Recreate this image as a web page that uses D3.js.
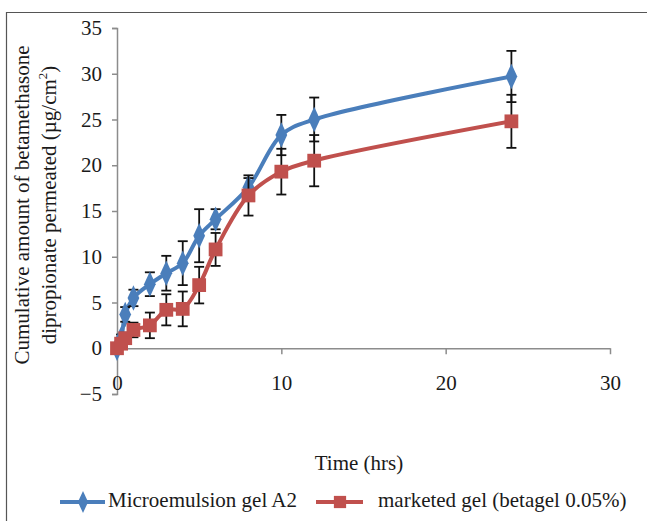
<!DOCTYPE html>
<html><head><meta charset="utf-8">
<script src="https://cdn.jsdelivr.net/npm/d3@7"></script>
<style>body{margin:0;background:#fff}svg{display:block}text{font-family:"Liberation Serif","Times New Roman",serif;fill:#1a1a1a}</style>
</head><body><svg id="c" width="647" height="521"></svg>
<script>
const times = [0, 0.25, 0.5, 1, 2, 3, 4, 5, 6, 8, 10, 12, 24];
const microValues = [0, 1.0, 3.7, 5.5, 7.0, 8.2, 9.3, 12.3, 14.1, 17.6, 23.3, 25.0, 29.7];
const microErrors = [0, 0.5, 0.8, 0.9, 1.3, 1.9, 2.4, 2.9, 1.1, 1.0, 2.2, 2.4, 2.8];
const marketValues = [0, 0.5, 1.1, 2.0, 2.5, 4.2, 4.3, 6.9, 10.8, 16.7, 19.3, 20.5, 24.8];
const marketErrors = [0, 0.3, 0.6, 0.8, 1.4, 1.7, 1.9, 2.0, 1.8, 2.2, 2.5, 2.8, 2.9];
const xTicks = [0, 10, 20, 30];
const yTicks = [-5, 0, 5, 10, 15, 20, 25, 30, 35];
const seriesNames = ["Microemulsion gel A2", "marketed gel (betagel 0.05%)"];
const seriesColors = ["#4a7ebb", "#c0504d"];

const FS = "21px";
const svg = d3.select("#c");
svg.append("path").attr("d", "M6.5,521 V12.5 H647").attr("fill","none").attr("stroke","#555").attr("stroke-width",1.2);

const x = d3.scaleLinear().domain([0, 30]).range([117, 610]);
const y = d3.scaleLinear().domain([-5, 35]).range([394, 28]);

const yAxis = svg.append("g").attr("transform","translate(117,0)")
  .call(d3.axisLeft(y).tickValues(yTicks).tickSize(5).tickPadding(10).tickFormat(d => d < 0 ? "\u2212" + Math.abs(d) : d));
yAxis.select(".domain").attr("stroke","#8c8c8c").attr("stroke-width",1.5);
yAxis.selectAll(".tick line").attr("stroke","#8c8c8c").attr("stroke-width",1.5);
yAxis.selectAll("text").style("font-size",FS).attr("fill","#1a1a1a");

const xAxis = svg.append("g").attr("transform",`translate(0,${y(0)})`)
  .call(d3.axisBottom(x).tickValues(xTicks).tickSize(6).tickSizeOuter(0).tickPadding(0));
xAxis.select(".domain").attr("stroke","#8c8c8c").attr("stroke-width",1.5);
xAxis.selectAll(".tick line").attr("stroke","#8c8c8c").attr("stroke-width",1.5);
xAxis.selectAll("text").style("font-size",FS).attr("fill","#1a1a1a").attr("y", 37).attr("dy",0).attr("dominant-baseline","middle");

svg.append("text").attr("x", 359).attr("y", 465).attr("text-anchor","middle").attr("dominant-baseline","middle")
  .style("font-size",FS).text("Time (hrs)");
const yl = svg.append("g").attr("transform","translate(0,205) rotate(-90)");
yl.append("text").attr("x",0).attr("y",24).attr("text-anchor","middle").attr("dominant-baseline","middle")
  .style("font-size",FS).text("Cumulative amount of betamethasone");
const t2 = yl.append("text").attr("x",0).attr("y",51).attr("text-anchor","middle").attr("dominant-baseline","middle")
  .style("font-size",FS);
t2.append("tspan").text("dipropionate permeated (\u00b5g/cm");
t2.append("tspan").attr("dy",-7).style("font-size","13px").text("2");
t2.append("tspan").attr("dy",7).text(")");

const series = [
  {vals: microValues, errs: microErrors, color: seriesColors[0], shape: d3.symbolDiamond, size: 120},
  {vals: marketValues, errs: marketErrors, color: seriesColors[1], shape: d3.symbolSquare, size: 190}
];

const line = d3.line().x(d => x(d.t)).y(d => y(d.v)).curve(d3.curveCatmullRom.alpha(0.5));

series.forEach(s => {
  const pts = times.map((t,i) => ({t, v: s.vals[i], e: s.errs[i]}));
  svg.append("path").datum(pts).attr("d", line).attr("fill","none").attr("stroke", s.color).attr("stroke-width",4).attr("stroke-linejoin","round");
  const eb = svg.append("g").attr("stroke","#111").attr("stroke-width",1.8);
  pts.filter(p => p.e > 0).forEach(p => {
    eb.append("line").attr("x1",x(p.t)).attr("x2",x(p.t)).attr("y1",y(p.v - p.e)).attr("y2",y(p.v + p.e));
    [p.v - p.e, p.v + p.e].forEach(v => eb.append("line").attr("x1",x(p.t)-5).attr("x2",x(p.t)+5).attr("y1",y(v)).attr("y2",y(v)));
  });
  svg.append("g").selectAll("path").data(pts).join("path")
    .attr("transform", d => `translate(${x(d.t)},${y(d.v)})` + (s.shape === d3.symbolDiamond ? " scale(1,1.25)" : ""))
    .attr("d", d3.symbol().type(s.shape).size(s.size)).attr("fill", s.color);
});

const legendY = 502;
const leg = [{x1:60,x2:105,mx:83,tx:108},{x1:316,x2:363,mx:340,tx:378}];
leg.forEach((l,i) => {
  const s = series[i];
  svg.append("line").attr("x1",l.x1).attr("x2",l.x2).attr("y1",legendY).attr("y2",legendY).attr("stroke",s.color).attr("stroke-width",4);
  svg.append("path").attr("transform",`translate(${l.mx},${legendY})` + (i===0?" scale(1,1.25)":"")).attr("d", d3.symbol().type(s.shape).size(i===0?90:150)).attr("fill",s.color);
  svg.append("text").attr("x",l.tx).attr("y",legendY).attr("dominant-baseline","middle").style("font-size",FS).text(seriesNames[i]);
});
</script></body></html>
